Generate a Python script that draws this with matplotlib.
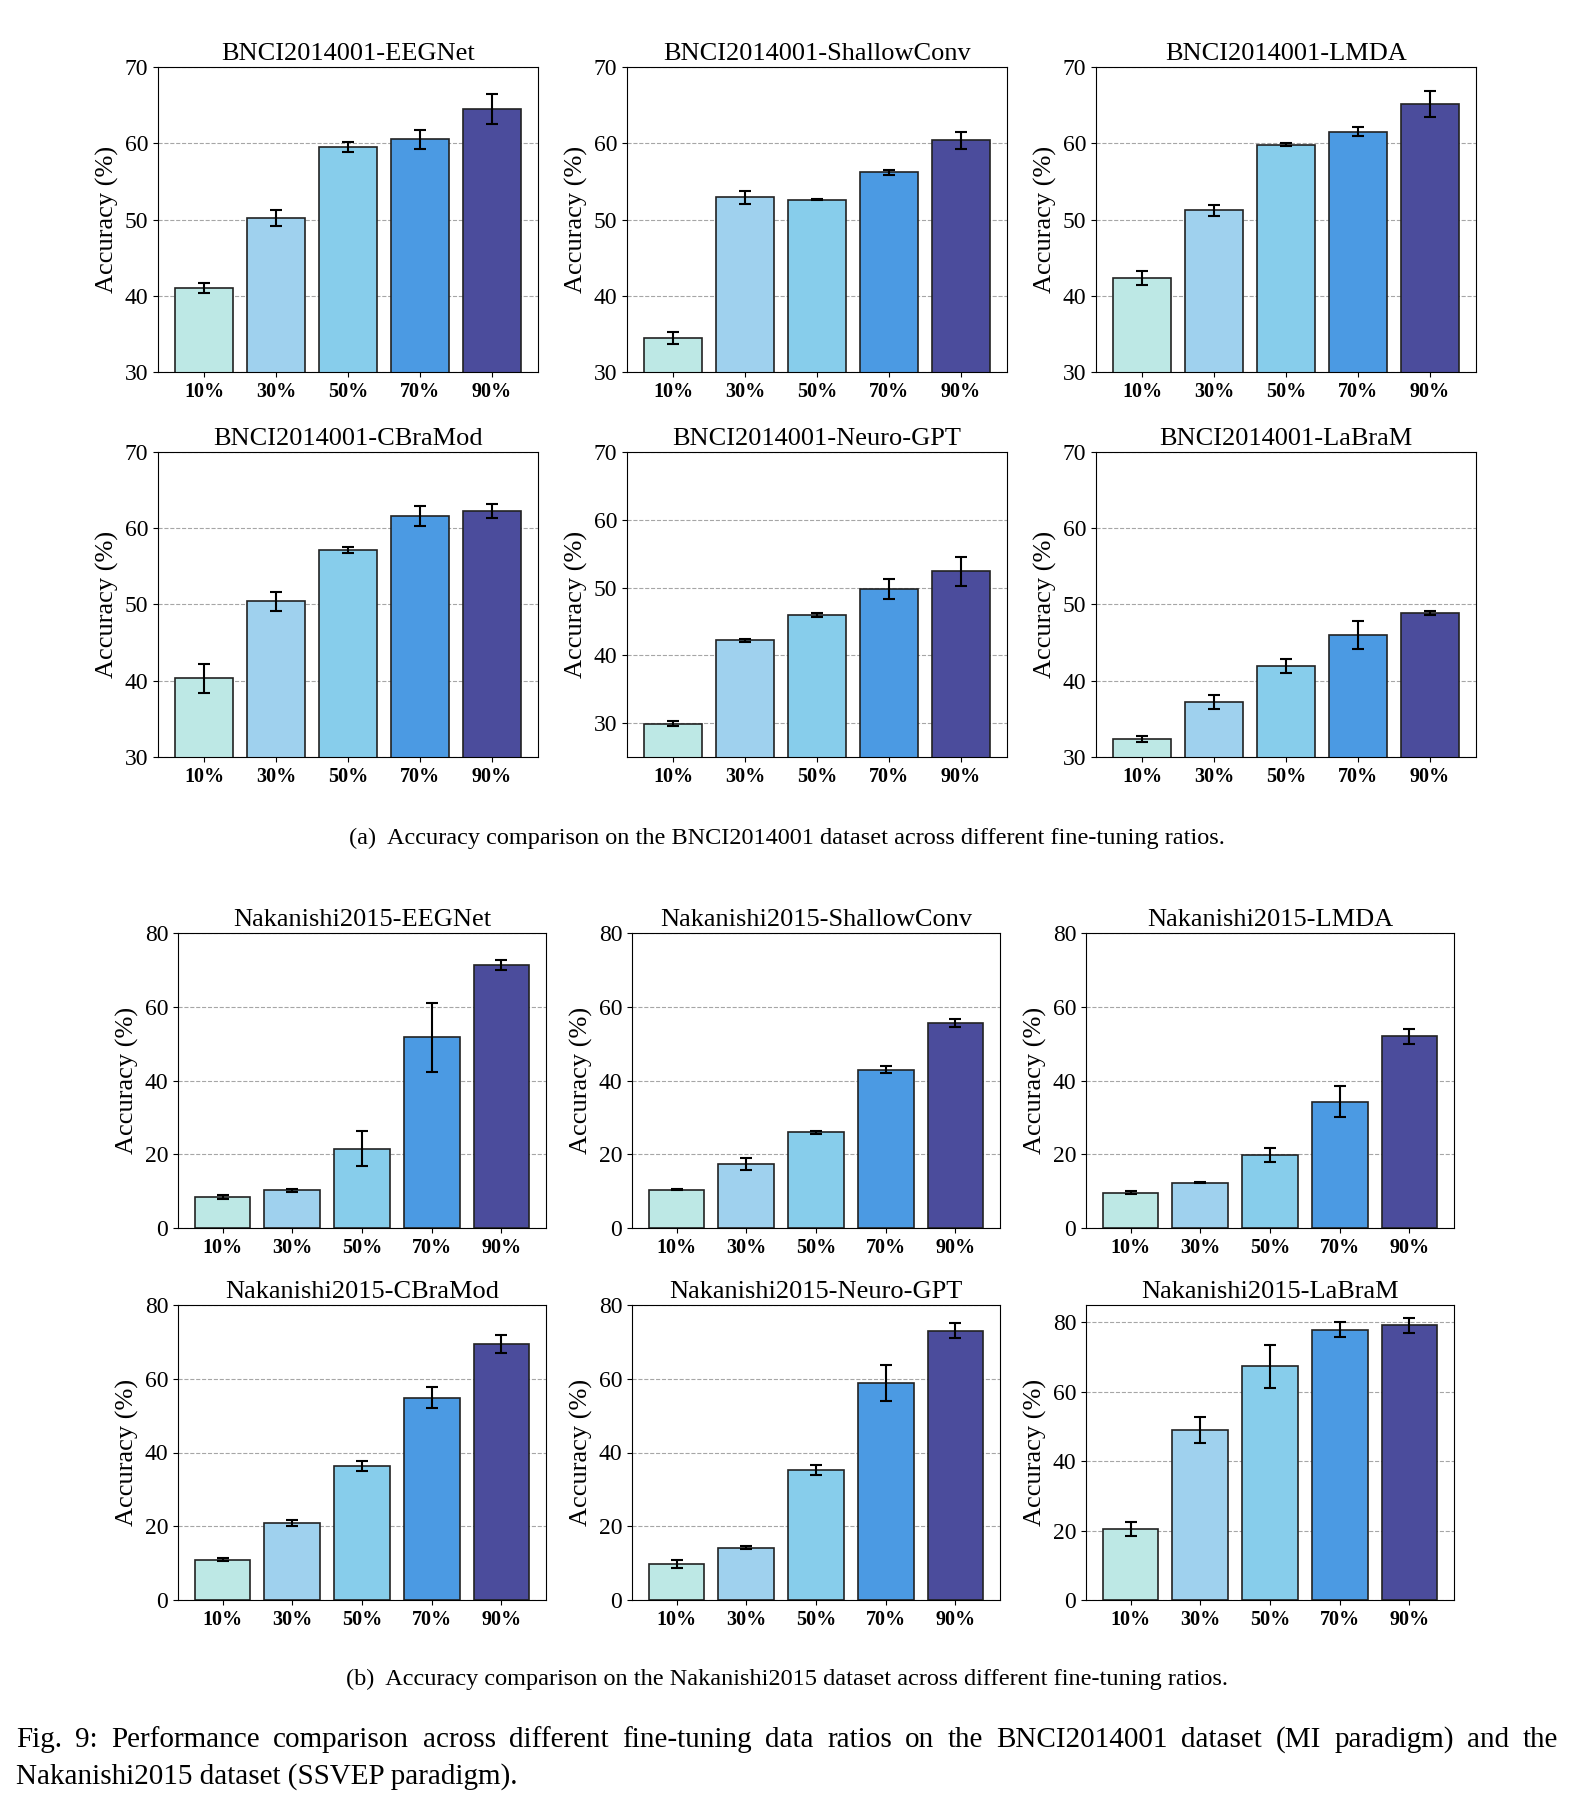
import numpy as np
import matplotlib
matplotlib.use("Agg")
import matplotlib.pyplot as plt

plt.rcParams['font.family'] = ['Liberation Serif', 'DejaVu Serif']

ratios = ['10%', '30%', '50%', '70%', '90%']
models = ['EEGNet', 'ShallowConv', 'LMDA', 'CBraMod', 'Neuro-GPT', 'LaBraM']

# BNCI2014001 (MI) mean / std per model
bnci_mean = [
    [41.0, 50.2, 59.5, 60.5, 64.5],
    [34.5, 52.9, 52.6, 56.2, 60.4],
    [42.3, 51.2, 59.8, 61.5, 65.2],
    [40.3, 50.4, 57.2, 61.6, 62.3],
    [29.9, 42.2, 45.9, 49.8, 52.4],
    [32.4, 37.2, 41.9, 46.0, 48.9],
]
bnci_std = [
    [0.7, 1.1, 0.6, 1.3, 2.0],
    [0.8, 0.9, 0.1, 0.3, 1.1],
    [0.9, 0.7, 0.2, 0.6, 1.7],
    [1.9, 1.2, 0.4, 1.3, 0.9],
    [0.4, 0.2, 0.3, 1.5, 2.1],
    [0.4, 0.9, 0.9, 1.9, 0.3],
]
# Nakanishi2015 (SSVEP)
nak_mean = [
    [8.4, 10.2, 21.5, 51.7, 71.3],
    [10.4, 17.4, 25.9, 42.9, 55.6],
    [9.6, 12.3, 19.8, 34.2, 52.0],
    [10.9, 20.9, 36.3, 54.9, 69.5],
    [9.8, 14.2, 35.2, 58.8, 73.0],
    [20.4, 49.0, 67.3, 77.9, 79.1],
]
nak_std = [
    [0.5, 0.4, 4.7, 9.4, 1.3],
    [0.2, 1.6, 0.5, 0.9, 1.2],
    [0.5, 0.2, 2.0, 4.2, 2.0],
    [0.4, 0.8, 1.3, 2.9, 2.4],
    [1.0, 0.5, 1.4, 4.8, 2.0],
    [2.0, 3.8, 6.3, 2.2, 2.1],
]

colors = ['#BDE8E5', '#9FD1EE', '#87CDEB', '#4B9AE3', '#4B4C9C']

W, H = 1574, 1810
fig = plt.figure(figsize=(W / 100, H / 100), dpi=100)


def add_ax(l, t, r, b):
    return fig.add_axes([l / W, 1 - b / H, (r - l) / W, (b - t) / H])


def draw(ax, title, mean, std, ylim, yticks):
    x = np.arange(len(ratios))
    ax.set_axisbelow(True)
    ax.grid(axis='y', linestyle='--', color='gray', alpha=0.7, linewidth=0.8)
    ax.bar(x, mean, width=0.8, color=colors, edgecolor='#222222', linewidth=1.2,
           yerr=std, capsize=4, error_kw=dict(elinewidth=1.5, capthick=1.5, ecolor='black'))
    ax.set_ylim(*ylim)
    ax.set_yticks(yticks)
    ax.set_xticks(x)
    ax.set_xticklabels(ratios, fontsize=14.5, fontweight='bold')
    ax.tick_params(axis='y', labelsize=17)
    ax.set_ylabel('Accuracy (%)', fontsize=19)
    ax.set_title(title, fontsize=19, pad=5)


top_lefts = [158, 627, 1096]
top_rows = [(67, 372), (452, 757)]
bot_lefts = [178, 632, 1086]
bot_rows = [(933, 1228), (1305, 1600)]

for i, m in enumerate(models):
    r, c = divmod(i, 3)
    t, b = top_rows[r]
    ax = add_ax(top_lefts[c], t, top_lefts[c] + 380, b)
    ylim = (25, 70) if m == 'Neuro-GPT' else (30, 70)
    draw(ax, 'BNCI2014001-' + m, bnci_mean[i], bnci_std[i], ylim, np.arange(30, 71, 10))

    t, b = bot_rows[r]
    ax = add_ax(bot_lefts[c], t, bot_lefts[c] + 368, b)
    ylim = (0, 85) if m == 'LaBraM' else (0, 80)
    draw(ax, 'Nakanishi2015-' + m, nak_mean[i], nak_std[i], ylim, np.arange(0, 81, 20))

fig.text(787 / W, 1 - 838 / H,
         '(a)  Accuracy comparison on the BNCI2014001 dataset across different fine-tuning ratios.',
         ha='center', va='center', fontsize=17.5)
fig.text(787 / W, 1 - 1679 / H,
         '(b)  Accuracy comparison on the Nakanishi2015 dataset across different fine-tuning ratios.',
         ha='center', va='center', fontsize=17.5)

# main caption, first line justified
line1 = ('Fig. 9: Performance comparison across different fine-tuning data ratios on the '
         'BNCI2014001 dataset (MI paradigm) and the').split()
line2 = 'Nakanishi2015 dataset (SSVEP paradigm).'
cap_fs = 21
x0, x1 = 16, 1558
fig.canvas.draw()
renderer = fig.canvas.get_renderer()
words = [fig.text(0, 1 - 1740 / H, w, fontsize=cap_fs, va='center') for w in line1]
widths = [w.get_window_extent(renderer).width for w in words]
gap = (x1 - x0 - sum(widths)) / (len(words) - 1)
xp = x0
for w, wd in zip(words, widths):
    w.set_x(xp / W)
    xp += wd + gap
fig.text(x0 / W, 1 - 1777 / H, line2, fontsize=cap_fs, va='center')

fig.savefig('out.png', dpi=100)
